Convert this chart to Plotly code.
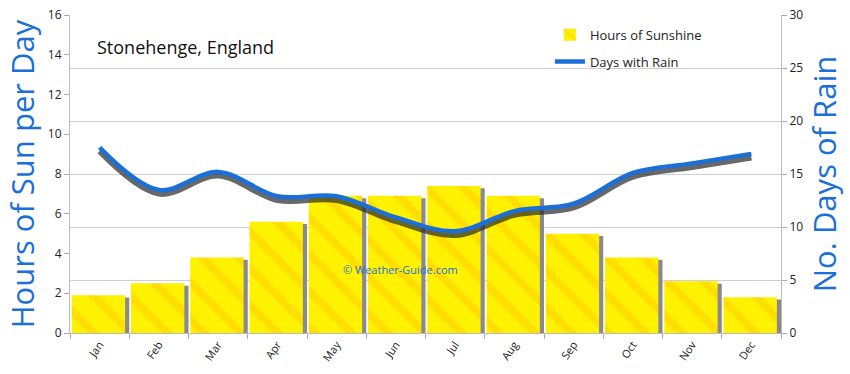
import plotly.graph_objects as go

months = ["Jan", "Feb", "Mar", "Apr", "May", "Jun", "Jul", "Aug", "Sep", "Oct", "Nov", "Dec"]
sun_hours = [1.9, 2.5, 3.8, 5.6, 6.9, 6.9, 7.4, 6.9, 5.0, 3.8, 2.6, 1.8]
rain_days = [17.5, 13.5, 15.2, 12.9, 12.9, 10.9, 9.6, 11.5, 12.2, 15.1, 16.0, 16.9]

BLUE = "#1a6fd8"
sun_shadow = [v - 0.12 for v in sun_hours]
rain_shadow = [v - 0.35 for v in rain_days]

fig = go.Figure()

# bar shadows
fig.add_trace(go.Bar(
    x=months, y=sun_shadow, width=0.9, offset=-0.4,
    marker=dict(color="#8a8a8a", line=dict(width=0)),
    showlegend=False, hoverinfo="skip", yaxis="y"))

# bars
fig.add_trace(go.Bar(
    x=months, y=sun_hours, width=0.9, offset=-0.47,
    name="Hours of Sunshine", legendgroup="sun",
    marker=dict(color="#FFF200", line=dict(width=0),
                pattern=dict(shape="\\", fgcolor="#FFB000", fgopacity=0.3,
                             size=26, solidity=0.3)),
    yaxis="y"))

# line shadow
fig.add_trace(go.Scatter(
    x=months, y=rain_shadow, mode="lines",
    line=dict(color="rgba(40,40,40,0.7)", width=6, shape="spline", smoothing=1.0),
    showlegend=False, hoverinfo="skip", yaxis="y2"))

# line
fig.add_trace(go.Scatter(
    x=months, y=rain_days, mode="lines", name="Days with Rain", legendgroup="rain",
    line=dict(color=BLUE, width=4.5, shape="spline", smoothing=1.0),
    yaxis="y2"))

fig.update_layout(
    width=850, height=374,
    margin=dict(l=70, r=69, t=15, b=41),
    paper_bgcolor="white", plot_bgcolor="white",
    barmode="overlay",
    font=dict(family="Open Sans, DejaVu Sans, sans-serif", color="#333333"),
    xaxis=dict(
        type="category", tickson="boundaries", ticks="outside", ticklen=5,
        tickcolor="#aaaaaa", showline=True, linecolor="#bbbbbb",
        tickangle=-55, tickfont=dict(size=11, color="#222222"),
        range=[-0.5, 11.5], showgrid=False, automargin=False),
    yaxis=dict(
        range=[0, 16], dtick=2, ticks="outside", ticklen=5, tickcolor="#aaaaaa",
        showline=True, linecolor="#bbbbbb", showgrid=False, zeroline=False,
        tickfont=dict(size=12, color="#222222"), automargin=False,
        title=dict(text="Hours of Sun per Day", font=dict(size=31, color=BLUE), standoff=4)),
    yaxis2=dict(
        range=[0, 30], dtick=5, overlaying="y", side="right", ticks="outside",
        ticklen=5, tickcolor="#aaaaaa", showline=True, linecolor="#bbbbbb",
        showgrid=True, gridcolor="#cfcfcf", zeroline=False,
        tickfont=dict(size=12, color="#222222"), automargin=False,
        title=dict(text="No. Days of Rain", font=dict(size=31, color=BLUE), standoff=10)),
    legend=dict(x=0.675, y=0.985, xanchor="left", yanchor="top",
                bgcolor="rgba(255,255,255,0)", font=dict(size=13, color="#222222"),
                itemwidth=30, tracegroupgap=7),
    annotations=[
        dict(text="Stonehenge, England", xref="paper", yref="paper", x=0.035, y=0.9,
             xanchor="left", yanchor="middle", showarrow=False,
             font=dict(size=18, color="#111111")),
        dict(text="© Weather-Guide.com", xref="paper", yref="paper", x=0.465, y=0.2,
             xanchor="center", yanchor="middle", showarrow=False,
             font=dict(size=11, color=BLUE)),
    ],
)

fig.write_html("out.html", config={"displayModeBar": False},
               post_script="document.body.style.margin='0';document.body.style.overflow='hidden';")
